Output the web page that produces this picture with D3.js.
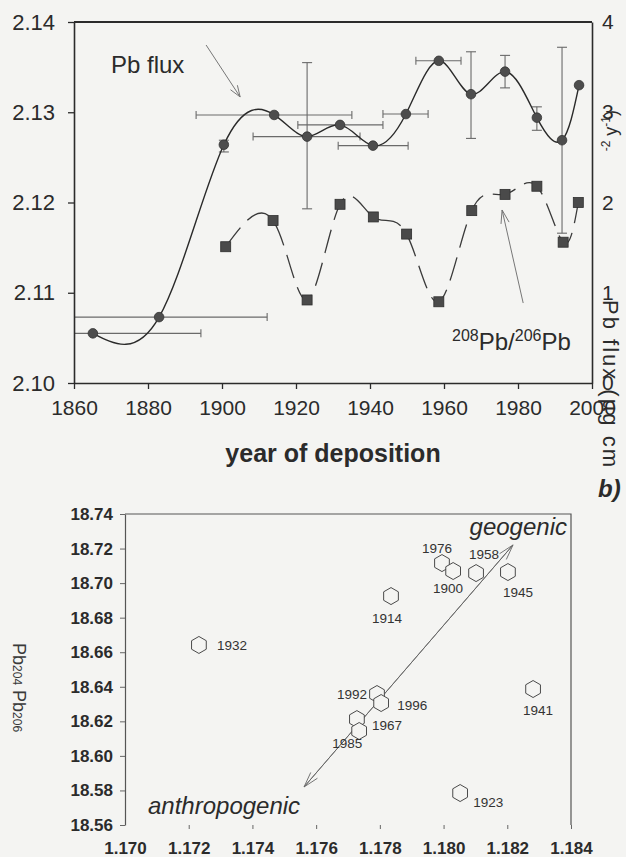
<!DOCTYPE html>
<html>
<head>
<meta charset="utf-8">
<script src="https://cdn.jsdelivr.net/npm/d3@7"></script>
<style>
  html, body { margin: 0; padding: 0; background: #f4f4f2; }
  svg { display: block; font-family: "Liberation Sans", Arial, sans-serif; }
</style>
</head>
<body>
<div id="chart"></div>
<script>
// ─── Panel a: Pb flux (right axis) ───
const fluxYears  = [1865.1, 1883.0, 1900.5, 1914.1, 1923.0, 1931.9, 1940.8, 1949.7, 1958.6, 1967.3, 1976.5, 1985.1, 1991.9, 1996.5];
const fluxValues = [0.55, 0.73, 2.64, 2.97, 2.73, 2.86, 2.63, 2.98, 3.57, 3.20, 3.45, 2.94, 2.69, 3.30];
// horizontal (dating) error bars, null = none
const yearLo = [1835.9, 1853.8, null, 1893.0, 1908.4, 1920.5, 1931.4, 1943.5, 1952.4, null, null, null, null, null];
const yearHi = [1894.3, 1912.2, null, 1935.1, 1937.3, 1943.5, 1950.3, 1955.7, 1964.6, null, null, null, null, null];
// vertical (flux) error bars
const fluxLo = [null, null, 2.56, null, 1.93, null, null, null, null, 2.71, 3.27, 2.80, 1.66, null];
const fluxHi = [null, null, 2.69, null, 3.55, null, null, null, null, 3.67, 3.63, 3.06, 3.72, null];

// ─── Panel a: 208Pb/206Pb (left axis) ───
const ratioYears  = [1901.0, 1913.8, 1923.0, 1931.9, 1940.9, 1949.9, 1958.6, 1967.5, 1976.5, 1985.1, 1992.2, 1996.3];
const ratioValues = [2.1151, 2.1180, 2.1092, 2.1198, 2.1184, 2.1165, 2.1090, 2.1191, 2.1209, 2.1218, 2.1156, 2.1200];

const yearTicks  = [1860, 1880, 1900, 1920, 1940, 1960, 1980, 2000];
const ratioTicks = [2.10, 2.11, 2.12, 2.13, 2.14];
const fluxTicks  = [0, 1, 2, 3, 4];

// ─── Panel b: 206Pb/204Pb vs 208Pb/206Pb ───
const sampleYears = ["1932", "1914", "1976", "1900", "1958", "1945", "1992", "1996", "1967", "1985", "1941", "1923"];
const ratio208    = [1.17232, 1.17835, 1.17995, 1.18030, 1.18102, 1.18202, 1.17791, 1.17804, 1.17728, 1.17735, 1.18281, 1.18052];
const ratio206    = [18.6642, 18.6925, 18.7116, 18.7070, 18.7058, 18.7064, 18.6358, 18.6306, 18.6213, 18.6144, 18.6387, 18.5785];
// label offsets from each hexagon [dx, dy, anchor]
const labelDx     = [18, -4, -5, -5, 8, 10, -10, 16, 15, -12, 5, 13];
const labelDy     = [5, 27, -10, 22, -14, 25, 5, 7, 11, 17, 26, 14];
const labelAnchor = ["start", "middle", "middle", "middle", "middle", "middle", "end", "start", "start", "middle", "middle", "start"];

const xTicksB = [1.170, 1.172, 1.174, 1.176, 1.178, 1.180, 1.182, 1.184];
const yTicksB = [18.56, 18.58, 18.60, 18.62, 18.64, 18.66, 18.68, 18.70, 18.72, 18.74];

// mixing-line arrow ends: geogenic (top) / anthropogenic (bottom)
const mixX = [1.18218, 1.17562];
const mixY = [18.7221, 18.5820];

const W = 626, H = 857;
const BG = "#f4f4f2";
const INK = "#2b2b2b";

const svg = d3.select("#chart").append("svg")
  .attr("width", W).attr("height", H);
svg.append("rect").attr("width", W).attr("height", H).attr("fill", BG);

// open V arrowhead at (x2,y2) pointing away from (x1,y1)
function arrow(g, x1, y1, x2, y2, len, spread, color, width) {
  g.append("line").attr("x1", x1).attr("y1", y1).attr("x2", x2).attr("y2", y2)
    .attr("stroke", color).attr("stroke-width", width);
  const a = Math.atan2(y2 - y1, x2 - x1);
  [-spread, spread].forEach((s) => {
    g.append("line")
      .attr("x1", x2).attr("y1", y2)
      .attr("x2", x2 - len * Math.cos(a + s))
      .attr("y2", y2 - len * Math.sin(a + s))
      .attr("stroke", color).attr("stroke-width", width);
  });
}

// ════════ Panel a ════════
const x = d3.scaleLinear().domain([1860, 2000]).range([74, 592]);
const yL = d3.scaleLinear().domain([2.10, 2.14]).range([383, 22]);
const yR = d3.scaleLinear().domain([0, 4]).range([383, 22]);

const pa = svg.append("g");

pa.append("defs").append("clipPath").attr("id", "clipA")
  .append("rect").attr("x", 74).attr("y", 22).attr("width", 518).attr("height", 361);

const fluxPts = fluxYears.map((yr, i) => ({
  yr, v: fluxValues[i], xl: yearLo[i], xh: yearHi[i], vl: fluxLo[i], vh: fluxHi[i],
}));
const ratioPts = ratioYears.map((yr, i) => ({ yr, v: ratioValues[i] }));

const bars = pa.append("g").attr("clip-path", "url(#clipA)")
  .attr("stroke", "#6a6a6a").attr("stroke-width", 1.1);

// horizontal error bars
fluxPts.filter((d) => d.xl != null).forEach((d) => {
  const yy = yR(d.v);
  bars.append("line").attr("x1", x(d.xl)).attr("x2", x(d.xh)).attr("y1", yy).attr("y2", yy);
  [d.xl, d.xh].forEach((e) => {
    bars.append("line").attr("x1", x(e)).attr("x2", x(e)).attr("y1", yy - 4).attr("y2", yy + 4);
  });
});
// vertical error bars
fluxPts.filter((d) => d.vl != null).forEach((d) => {
  const xx = x(d.yr);
  bars.append("line").attr("x1", xx).attr("x2", xx).attr("y1", yR(d.vl)).attr("y2", yR(d.vh));
  [d.vl, d.vh].forEach((e) => {
    bars.append("line").attr("x1", xx - 5).attr("x2", xx + 5).attr("y1", yR(e)).attr("y2", yR(e));
  });
});

// ratio dashed curve
pa.append("path")
  .datum(ratioPts)
  .attr("fill", "none")
  .attr("stroke", "#3a3a3a")
  .attr("stroke-width", 1.3)
  .attr("stroke-dasharray", "24,10")
  .attr("d", d3.line().x((d) => x(d.yr)).y((d) => yL(d.v)).curve(d3.curveNatural));

// flux solid curve
pa.append("path")
  .datum(fluxPts)
  .attr("fill", "none")
  .attr("stroke", "#2a2a2a")
  .attr("stroke-width", 1.4)
  .attr("d", d3.line().x((d) => x(d.yr)).y((d) => yR(d.v)).curve(d3.curveNatural));

pa.selectAll("rect.sq")
  .data(ratioPts)
  .join("rect")
  .attr("class", "sq")
  .attr("x", (d) => x(d.yr) - 5)
  .attr("y", (d) => yL(d.v) - 5)
  .attr("width", 10).attr("height", 10)
  .attr("fill", "#4a4a4a")
  .attr("stroke", "#2e2e2e").attr("stroke-width", 0.8);

pa.selectAll("circle.pt")
  .data(fluxPts)
  .join("circle")
  .attr("class", "pt")
  .attr("cx", (d) => x(d.yr))
  .attr("cy", (d) => yR(d.v))
  .attr("r", 4.8)
  .attr("fill", "#4d4d4d")
  .attr("stroke", "#333").attr("stroke-width", 0.8);

// axes
const axB = pa.append("g").attr("transform", "translate(0,383)")
  .call(d3.axisBottom(x).tickValues(yearTicks).tickFormat(d3.format("d"))
    .tickSize(6).tickSizeOuter(0).tickPadding(11));
const axL = pa.append("g").attr("transform", "translate(74,0)")
  .call(d3.axisLeft(yL).tickValues(ratioTicks).tickFormat(d3.format(".2f"))
    .tickSize(6).tickSizeOuter(0).tickPadding(13));
const axR = pa.append("g").attr("transform", "translate(592,0)")
  .call(d3.axisRight(yR).tickValues(fluxTicks).tickFormat(d3.format("d"))
    .tickSize(0).tickSizeOuter(0).tickPadding(10));

[axB, axL, axR].forEach((a) => {
  a.select(".domain").attr("stroke", INK).attr("stroke-width", 1.6);
  a.selectAll(".tick line").attr("stroke", INK).attr("stroke-width", 1.3);
  a.selectAll(".tick text").attr("fill", INK).style("font-size", "21px")
    .style("font-family", "'Liberation Sans', Arial, sans-serif");
});
axL.selectAll(".tick text").style("font-size", "22px");

pa.append("line").attr("x1", 74).attr("x2", 592).attr("y1", 22).attr("y2", 22)
  .attr("stroke", INK).attr("stroke-width", 2);

pa.append("text")
  .attr("x", 333).attr("y", 462)
  .attr("text-anchor", "middle")
  .attr("fill", INK)
  .style("font-size", "25px").style("font-weight", "bold")
  .text("year of deposition");

// right axis title (scan-distorted)
pa.append("text")
  .attr("transform", "translate(603,300) rotate(90)")
  .attr("fill", INK)
  .style("font-size", "22px").style("letter-spacing", "2px")
  .text("Pb flux (µg cm");
const tail = pa.append("text")
  .attr("transform", "translate(617,110) rotate(-90)")
  .attr("text-anchor", "end")
  .attr("fill", INK)
  .style("font-size", "18px");
tail.append("tspan").attr("dy", -7).style("font-size", "12px").text("-2");
tail.append("tspan").attr("dy", 7).text(" y");
tail.append("tspan").attr("dy", -7).style("font-size", "12px").text("-1");
tail.append("tspan").attr("dy", 7).text(")");

// annotations
pa.append("text").attr("x", 111).attr("y", 73).attr("fill", INK)
  .style("font-size", "24px").text("Pb flux");
arrow(pa, x(1895.7), yR(3.745), x(1904.9), yR(3.17), 12, 0.35, "#777", 1);

const lab = pa.append("text").attr("x", 452).attr("y", 350).attr("fill", INK)
  .style("font-size", "24px");
lab.append("tspan").attr("dy", -9).style("font-size", "16px").text("208");
lab.append("tspan").attr("dy", 9).text("Pb/");
lab.append("tspan").attr("dy", -9).style("font-size", "16px").text("206");
lab.append("tspan").attr("dy", 9).text("Pb");
arrow(pa, x(1981.4), yL(2.10886), x(1975.7), yL(2.11917), 14, 0.3, "#777", 1);

svg.append("text")
  .attr("x", 598).attr("y", 497)
  .attr("fill", INK)
  .style("font-size", "24px").style("font-weight", "bold").style("font-style", "italic")
  .text("b)");

// ════════ Panel b ════════
const xb = d3.scaleLinear().domain([1.170, 1.184]).range([125, 571]);
const yb = d3.scaleLinear().domain([18.56, 18.74]).range([825, 514]);

const pb = svg.append("g");

const axBL = pb.append("g").attr("transform", "translate(125,0)")
  .call(d3.axisLeft(yb).tickValues(yTicksB).tickFormat(d3.format(".2f"))
    .tickSize(5).tickSizeOuter(0).tickPadding(7));
const axBB = pb.append("g").attr("transform", "translate(0,825)")
  .call(d3.axisBottom(xb).tickValues(xTicksB).tickFormat(d3.format(".3f"))
    .tickSize(4).tickSizeOuter(0).tickPadding(13));
axBB.select(".domain").remove();
axBB.selectAll(".tick").filter((d) => d === 1.170).select("line").remove();
axBL.select(".domain").attr("stroke", "#555").attr("stroke-width", 1.2);
[axBL, axBB].forEach((a) => {
  a.selectAll(".tick line").attr("stroke", "#666").attr("stroke-width", 1);
  a.selectAll(".tick text").attr("fill", INK)
    .style("font-size", "17px").style("font-weight", "bold")
    .style("font-family", "'Liberation Sans', Arial, sans-serif");
});

pb.append("path")
  .attr("d", `M125,514H571V825`)
  .attr("fill", "none").attr("stroke", "#555").attr("stroke-width", 1.2);

// y title (scan-distorted)
const yt = pb.append("text")
  .attr("transform", "translate(13,643) rotate(90)")
  .attr("fill", "#3a3a3a")
  .style("font-size", "18px");
yt.append("tspan").text("Pb");
yt.append("tspan").style("font-size", "12px").text("204");
yt.append("tspan").text("  Pb");
yt.append("tspan").style("font-size", "12px").text("206");

// mixing arrow (double headed)
const mx1 = xb(mixX[0]), my1 = yb(mixY[0]), mx2 = xb(mixX[1]), my2 = yb(mixY[1]);
arrow(pb, mx2, my2, mx1, my1, 16, 0.28, "#666", 0.9);
arrow(pb, mx1, my1, mx2, my2, 16, 0.28, "#666", 0.9);

pb.append("text").attr("x", 567).attr("y", 535).attr("text-anchor", "end")
  .attr("fill", INK).style("font-size", "24px").style("font-style", "italic")
  .text("geogenic");
pb.append("text").attr("x", 148).attr("y", 814)
  .attr("fill", INK).style("font-size", "24px").style("font-style", "italic")
  .text("anthropogenic");

const hex = (cx, cy, r) => {
  const pts = d3.range(6).map((k) => {
    const a = -Math.PI / 2 + k * Math.PI / 3;
    return [cx + r * Math.cos(a), cy + r * Math.sin(a)];
  });
  return "M" + pts.join("L") + "Z";
};

const samples = sampleYears.map((s, i) => ({
  s, x: ratio208[i], y: ratio206[i], dx: labelDx[i], dy: labelDy[i], anchor: labelAnchor[i],
}));

pb.selectAll("path.hex")
  .data(samples)
  .join("path")
  .attr("class", "hex")
  .attr("d", (d) => hex(xb(d.x), yb(d.y), 8.5))
  .attr("fill", BG)
  .attr("stroke", "#4a4a4a").attr("stroke-width", 1);

pb.selectAll("text.yr")
  .data(samples)
  .join("text")
  .attr("class", "yr")
  .attr("x", (d) => xb(d.x) + d.dx)
  .attr("y", (d) => yb(d.y) + d.dy)
  .attr("text-anchor", (d) => d.anchor)
  .attr("fill", "#333")
  .style("font-size", "13.5px")
  .text((d) => d.s);
</script>
</body>
</html>
